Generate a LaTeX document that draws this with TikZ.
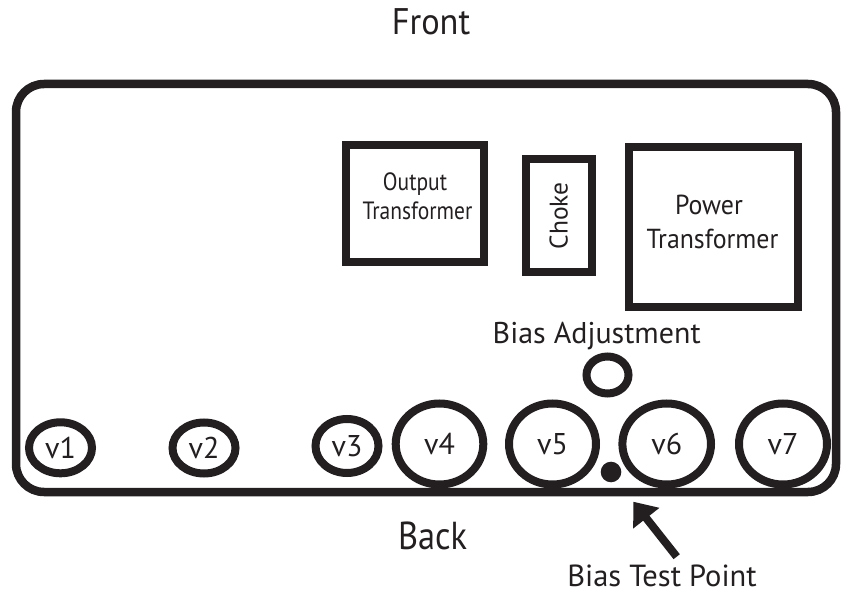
\documentclass[tikz,border=0pt]{standalone}
\usepackage{fontspec}
\setmainfont{PT Sans}
\newfontfamily\narrowA[FakeStretch=0.86]{PT Sans}
\newfontfamily\narrowB[FakeStretch=0.94]{PT Sans}
\newfontfamily\narrowC[FakeStretch=0.93]{PT Sans}
\newfontfamily\narrowD[FakeStretch=0.88]{PT Sans}
\usetikzlibrary{shapes.geometric,arrows.meta}
\definecolor{ink}{RGB}{35,31,32}
\begin{document}
\begin{tikzpicture}[x=1pt,y=-1pt,
  frame/.style={draw=ink,line width=8.5pt,rounded corners=28pt},
  part/.style={draw=ink,line width=8pt,rectangle,inner sep=0pt,text=ink,align=center},
  tube/.style={draw=ink,line width=8pt,ellipse,inner sep=0pt,text=ink,
    font=\fontsize{30}{34}\selectfont},
  knob/.style={draw=ink,line width=8pt,ellipse,inner sep=0pt},
  dotp/.style={fill=ink,circle,inner sep=0pt,minimum size=20.6pt},
  lbl/.style={anchor=base,text=ink,inner sep=0pt},
  ptr/.style={draw=ink,line width=8pt,-{Triangle[length=21pt,width=32pt]}}]
\useasboundingbox (0,0) rectangle (846,593);
% chassis
\draw[frame] (16,84) rectangle (836,492);
% labels
\node[lbl,font=\narrowC\fontsize{37}{44}\selectfont] (front) at (431,34.3) {Front};
\node[lbl,font=\narrowD\fontsize{39}{44}\selectfont] (back) at (432.5,549.3) {Back};
\node[lbl,font=\fontsize{30}{35}\selectfont] (badj) at (596.7,343.3) {Bias Adjustment};
\node[lbl,font=\fontsize{30.5}{36}\selectfont] (btp) at (662,586.5) {Bias Test Point};
% parts
\node[part,minimum width=138pt,minimum height=117pt] (ot) at (415,204) {};
\node[lbl,font=\narrowA\fontsize{25}{29}\selectfont] (otl1) at (415,191) {Output};
\node[lbl,font=\narrowA\fontsize{25}{29}\selectfont] (otl2) at (417.5,220) {Transformer};
\node[part,rotate=90,minimum width=113.5pt,minimum height=65.5pt,font=\fontsize{25.5}{29}\selectfont] (ch) at (558.75,215.75) {Choke};
\node[part,minimum width=168.5pt,minimum height=160pt] (pt) at (713.25,227) {};
\node[lbl,font=\narrowB\fontsize{27.5}{33}\selectfont] (ptl1) at (709,215) {Power};
\node[lbl,font=\narrowB\fontsize{27.5}{33}\selectfont] (ptl2) at (712.5,248.3) {Transformer};
% tubes
\node[tube,minimum width=63pt,minimum height=51pt] (v1) at (60.5,447.8) {v1};
\node[tube,minimum width=63pt,minimum height=51pt] (v2) at (204,448) {v2};
\node[tube,minimum width=63pt,minimum height=54pt] (v3) at (347,446) {v3};
\node[tube,minimum width=87.6pt,minimum height=81pt] (v4) at (439.5,444) {v4};
\node[tube,minimum width=87pt,minimum height=81pt] (v5) at (552.5,444) {v5};
\node[tube,minimum width=88.6pt,minimum height=81pt] (v6) at (666.7,444) {v6};
\node[tube,minimum width=88pt,minimum height=81pt] (v7) at (783,444) {v7};
% bias adjustment pot and test point
\node[knob,minimum width=42pt,minimum height=37pt] (pot) at (607.5,375) {};
\node[dotp] (tpdot) at (611,472) {};
\coordinate (tptail) at (676.7,556.7);
\coordinate (tptip) at (633.3,501.7);
\draw[ptr] (tptail) -- (tptip);
\end{tikzpicture}
\end{document}
